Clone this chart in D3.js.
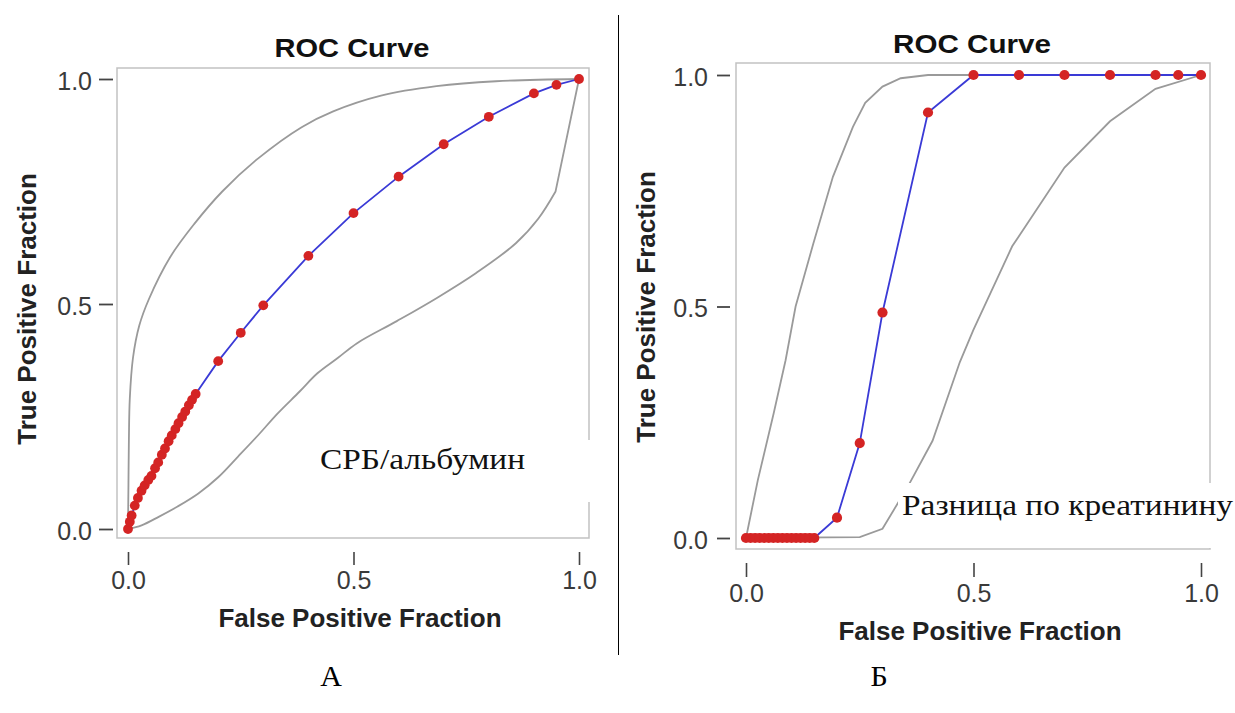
<!DOCTYPE html>
<html><head><meta charset="utf-8">
<script src="https://cdn.jsdelivr.net/npm/d3@7"></script>
<style>html,body{margin:0;padding:0;background:#fff;}svg{display:block;}</style>
</head><body>
<svg id="chart" width="1235" height="713"></svg>
<script>
// ---------- data ----------
const tickValues = [0, 0.5, 1];
const tickLabels = ["0.0", "0.5", "1.0"];
const chartTitle = "ROC Curve";
const xAxisTitle = "False Positive Fraction";
const yAxisTitle = "True Positive Fraction";
const panelLetters = ["А", "Б"];
const markerLabels = ["СРБ/альбумин", "Разница по креатинину"];

// Panel A: CRP/albumin
const rocA_fpf = [0,0.004,0.008,0.015,0.022,0.03,0.037,0.045,0.052,0.06,0.067,0.075,0.082,0.09,0.097,0.105,0.112,0.12,0.127,0.135,0.142,0.15,0.2,0.25,0.3,0.4,0.5,0.6,0.7,0.8,0.9,0.95,1.0];
const rocA_tpf = [0,0.016,0.03,0.052,0.069,0.085,0.097,0.109,0.118,0.135,0.148,0.165,0.179,0.195,0.208,0.222,0.235,0.249,0.261,0.275,0.287,0.300,0.373,0.436,0.497,0.607,0.702,0.783,0.855,0.916,0.968,0.987,1.0];
const upperA_fpf = [0,0.001,0.002,0.004,0.011,0.025,0.046,0.094,0.147,0.209,0.288,0.385,0.455,0.561,0.684,0.816,1];
const upperA_tpf = [0,0.1,0.2,0.29,0.38,0.452,0.51,0.605,0.678,0.75,0.823,0.893,0.928,0.963,0.984,0.995,1];
const lowerA_fpf = [0,0.03,0.068,0.11,0.156,0.2,0.244,0.29,0.332,0.38,0.42,0.465,0.508,0.596,0.684,0.772,0.86,0.91,0.948,1];
const lowerA_tpf = [0,0.008,0.027,0.05,0.079,0.115,0.161,0.21,0.257,0.305,0.346,0.38,0.413,0.462,0.513,0.569,0.635,0.69,0.75,1];

// Panel B: creatinine difference
const rocB_fpf = [0,0.01,0.02,0.03,0.04,0.05,0.06,0.07,0.08,0.09,0.10,0.11,0.12,0.13,0.14,0.15,0.2,0.25,0.3,0.4,0.5,0.6,0.7,0.8,0.9,0.95,1.0];
const rocB_tpf = [0,0,0,0,0,0,0,0,0,0,0,0,0,0,0,0,0.044,0.205,0.487,0.919,1,1,1,1,1,1,1];
const upperB_fpf = [0,0.026,0.061,0.087,0.109,0.148,0.191,0.235,0.262,0.30,0.34,0.40,1];
const upperB_tpf = [0,0.125,0.27,0.384,0.5,0.636,0.78,0.888,0.94,0.975,0.993,1.0,1];
const lowerB_fpf = [0,0.25,0.30,0.355,0.41,0.47,0.50,0.585,0.70,0.80,0.90,1];
const lowerB_tpf = [0,0.002,0.02,0.11,0.21,0.38,0.45,0.63,0.80,0.90,0.97,1];

// ---------- layout ----------
const panels = [
  { roc:[rocA_fpf,rocA_tpf], up:[upperA_fpf,upperA_tpf], lo:[lowerA_fpf,lowerA_tpf], ciSmooth:true,
    xr:[128,579], yr:[529,79], frame:{l:117,r:589,t:68,b:538}, gap:{x:300,y:440,w:300,h:62},
    titleX:352, titleY:57, titleLen:155,
    xtMark:[552,565], xtLabelY:590, ytMark:[99,113], ytLabelX:92,
    xTitleX:360, xTitleY:627, yTitleX:36, yTitleY:309,
    label:{x:320,y:469,len:205}, letter:{x:331,y:686}, r:4.9 },
  { roc:[rocB_fpf,rocB_tpf], up:[upperB_fpf,upperB_tpf], lo:[lowerB_fpf,lowerB_tpf], ciSmooth:false,
    xr:[746,1201], yr:[538,75], frame:{l:736,r:1210,t:63,b:549}, gap:{x:898,y:483,w:337,h:65},
    titleX:972, titleY:53, titleLen:158,
    xtMark:[563,577], xtLabelY:603, ytMark:[717,730], ytLabelX:708,
    xTitleX:980, xTitleY:640, yTitleX:655, yTitleY:307,
    label:{x:902,y:515,len:331}, letter:{x:879,y:686}, r:5.1 }
];

const svg = d3.select("#chart");
svg.append("rect").attr("width",1235).attr("height",713).attr("fill","#fff");

// divider
svg.append("line").attr("x1",618.5).attr("x2",618.5).attr("y1",15).attr("y2",655)
  .attr("stroke","#000").attr("stroke-width",1);

panels.forEach((p, i) => {
  const x = d3.scaleLinear().domain([0,1]).range(p.xr);
  const y = d3.scaleLinear().domain([0,1]).range(p.yr);
  const g = svg.append("g");
  const f = p.frame;

  // frame
  g.append("rect").attr("x",f.l).attr("y",f.t).attr("width",f.r-f.l).attr("height",f.b-f.t)
    .attr("fill","none").attr("stroke","#c2c2c2").attr("stroke-width",1.5);

  // axes (tick marks + labels) via d3 axes
  const xAxis = d3.axisBottom(x).tickValues(tickValues).tickFormat((d,k)=>tickLabels[k])
    .tickSize(p.xtMark[1]-p.xtMark[0]).tickPadding(p.xtLabelY - p.xtMark[1] - 19);
  const xg = g.append("g").attr("transform",`translate(0,${p.xtMark[0]})`).call(xAxis);
  xg.select(".domain").remove();
  xg.selectAll(".tick line").attr("stroke","#444").attr("stroke-width",1.6);
  xg.selectAll(".tick text").attr("font-family","'Liberation Sans', Arial, sans-serif")
    .attr("font-size",25).attr("fill","#3a3a3a");

  const yAxis = d3.axisLeft(y).tickValues(tickValues).tickFormat((d,k)=>tickLabels[k])
    .tickSize(p.ytMark[1]-p.ytMark[0]).tickPadding(p.ytMark[0]-p.ytLabelX);
  const yg = g.append("g").attr("transform",`translate(${p.ytMark[1]},0)`).call(yAxis);
  yg.select(".domain").remove();
  yg.selectAll(".tick line").attr("stroke","#444").attr("stroke-width",1.8);
  yg.selectAll(".tick text").attr("font-family","'Liberation Sans', Arial, sans-serif")
    .attr("font-size",25).attr("fill","#3a3a3a").attr("dy","0.4em");

  // CI curves (smooth part, then straight final segment for the lower curve of panel A)
  const smooth = d3.line().x(d=>x(d[0])).y(d=>y(d[1]))
    .curve(p.ciSmooth ? d3.curveCatmullRom.alpha(0.5) : d3.curveLinear);
  [p.up, p.lo].forEach((c, ci) => {
    const pts = c[0].map((v,k)=>[v, c[1][k]]);
    let d;
    if (p.ciSmooth && ci === 1) {
      const last = pts[pts.length-1];
      d = smooth(pts.slice(0, -1)) + `L${x(last[0])},${y(last[1])}`;
    } else {
      d = smooth(pts);
    }
    g.append("path").attr("d", d).attr("fill","none")
      .attr("stroke","#9a9a9a").attr("stroke-width",1.8);
  });

  // ROC line
  const rocPts = p.roc[0].map((v,k)=>[v, p.roc[1][k]]);
  g.append("path").attr("d", d3.line().x(d=>x(d[0])).y(d=>y(d[1]))(rocPts))
    .attr("fill","none").attr("stroke","#3a3ad6").attr("stroke-width",1.8);
  g.selectAll("circle.pt").data(rocPts).join("circle").attr("class","pt")
    .attr("cx",d=>x(d[0])).attr("cy",d=>y(d[1])).attr("r",p.r).attr("fill","#d42424");

  // title
  g.append("text").attr("x",p.titleX).attr("y",p.titleY).attr("text-anchor","middle")
    .attr("font-family","'Liberation Sans', Arial, sans-serif").attr("font-weight","bold")
    .attr("font-size",26).attr("fill","#111")
    .attr("textLength",p.titleLen).attr("lengthAdjust","spacingAndGlyphs").text(chartTitle);

  // axis titles
  g.append("text").attr("x",p.xTitleX).attr("y",p.xTitleY).attr("text-anchor","middle")
    .attr("font-family","'Liberation Sans', Arial, sans-serif").attr("font-weight","bold")
    .attr("font-size",26).attr("fill","#222").text(xAxisTitle);
  g.append("text").attr("transform",`translate(${p.yTitleX},${p.yTitleY}) rotate(-90)`)
    .attr("text-anchor","middle")
    .attr("font-family","'Liberation Sans', Arial, sans-serif").attr("font-weight","bold")
    .attr("font-size",26).attr("fill","#222").text(yAxisTitle);

  // white label box (covers part of the frame) and label
  g.append("rect").attr("x",p.gap.x).attr("y",p.gap.y).attr("width",p.gap.w).attr("height",p.gap.h)
    .attr("fill","#fff");
  g.append("text").attr("x",p.label.x).attr("y",p.label.y)
    .attr("font-family","'Liberation Serif', 'Times New Roman', serif").attr("font-size",30)
    .attr("fill","#111").attr("textLength",p.label.len).attr("lengthAdjust","spacingAndGlyphs")
    .text(markerLabels[i]);

  // panel letter
  svg.append("text").attr("x",p.letter.x).attr("y",p.letter.y).attr("text-anchor","middle")
    .attr("font-family","'Liberation Serif', 'Times New Roman', serif").attr("font-size",30)
    .attr("fill","#000").text(panelLetters[i]);
});
</script>
</body></html>
